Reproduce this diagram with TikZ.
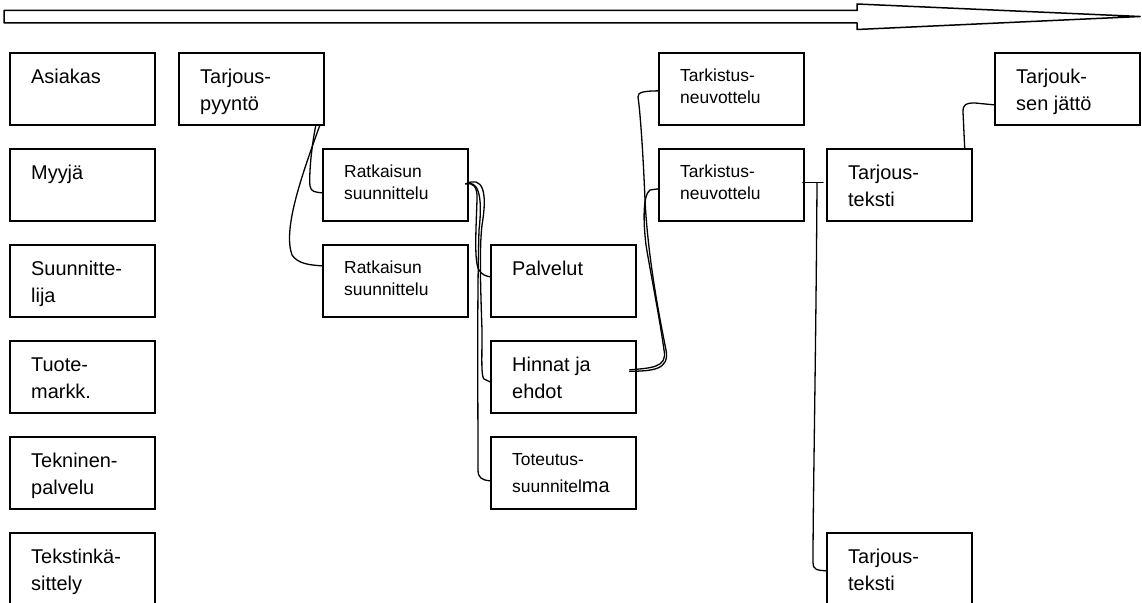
\documentclass[tikz,border=0pt]{standalone}
\usepackage{fontspec}
\setmainfont{Liberation Sans}
\usetikzlibrary{calc}
\tikzset{
  box/.style={draw=black, line width=1.7bp, anchor=north west, inner sep=0pt,
              minimum width=145bp, minimum height=72bp},
  lg/.style={anchor=base west, inner sep=0pt, xshift=22bp, yshift=-31.5bp,
             font=\fontsize{20}{27}\selectfont},
  sm/.style={anchor=base west, inner sep=0pt, xshift=22bp, yshift=-29.5bp,
             font=\fontsize{17.5}{22.5}\selectfont},
  conn/.style={draw=black, line width=1.3bp, line cap=round, line join=round},
  bigarrow/.style={draw=black, line width=1.5bp, fill=white, line join=round}
}
\newcommand\mkbox[5]{%
  \node[box] (#1) at (#2,#3) {};
  \node[#4] (#1-t) at (#1.north west) {\parbox[t]{125bp}{\raggedright #5}};
}
\begin{document}
\begin{tikzpicture}[x=1bp, y=-1bp]
\clip (0,0) rectangle (1142,603);
\fill[white] (0,0) rectangle (1142,603);

% top arrow
\draw[bigarrow] (4,10.5) -- (857,10.5) -- (857,4) -- (1140,16.5) -- (857,29.5)
   -- (857,23) -- (4,23) -- cycle;

% left column
\mkbox{asi}{9}{52}{lg}{Asiakas}
\mkbox{myy}{9}{148}{lg}{Myyjä}
\mkbox{suu}{9}{244}{lg}{Suunnitte-\\lija}
\mkbox{tuo}{9}{340}{lg}{Tuote-\\markk.}
\mkbox{tek}{9}{436}{lg}{Tekninen-\\palvelu}
\mkbox{tks}{9}{532}{lg}{Tekstinkä-\\sittely}

% process boxes
\mkbox{tp}{178}{52}{lg}{Tarjous-\\pyyntö}
\mkbox{ra}{322}{148}{sm}{Ratkaisun\\suunnittelu}
\mkbox{rb}{322}{244}{sm}{Ratkaisun\\suunnittelu}
\mkbox{pal}{490}{244}{lg}{Palvelut}
\mkbox{hin}{490}{340}{lg}{Hinnat ja\\ehdot}
\mkbox{tot}{490}{436}{sm}{Toteutus-\\[4.5bp]suunnitel{\fontsize{20}{27}\selectfont ma}}
\mkbox{tka}{658}{52}{sm}{Tarkistus-\\neuvottelu}
\mkbox{tkb}{658}{148}{sm}{Tarkistus-\\neuvottelu}
\mkbox{tta}{826}{148}{lg}{Tarjous-\\teksti}
\mkbox{ttb}{826}{532}{lg}{Tarjous-\\teksti}
\mkbox{tj}{994}{52}{lg}{Tarjouk-\\sen jättö}

% connectors
% Tarjouspyyntö -> Ratkaisun suunnittelu (1)
\draw[conn] ([xshift=-9bp]tp.south east) .. controls (311,150) and (309,175) .. (310,186)
   .. controls (311,192) and (315,192) .. ([yshift=-8bp]ra.west);
% Tarjouspyyntö -> Ratkaisun suunnittelu (2)
\draw[conn] ([xshift=-5bp]tp.south east) .. controls (300,180) and (283,230) .. (292,255)
   .. controls (298,264) and (310,265) .. ([yshift=15bp]rb.west);

% Ratkaisun suunnittelu (1) -> Palvelut, Hinnat, Toteutus
\coordinate (rs) at ([xshift=-3bp,yshift=1bp]ra.east);
\draw[conn] (rs) .. controls (472,182) and (478,186) .. (477,200)
   .. controls (476,230) and (474,262) .. (479,270)
   .. controls (482,275) and (486,276) .. ([yshift=4bp]pal.west);
\draw[conn] (rs) .. controls (482,176) and (488,190) .. (482,225)
   .. controls (479,250) and (481,300) .. (482,330)
   .. controls (482,360) and (481,376) .. (484,379) -- ([yshift=-5bp]hin.west);
\draw[conn] (rs) .. controls (478,180) and (483,195) .. (479,230)
   .. controls (477,300) and (478,400) .. (478,470)
   .. controls (478,478) and (482,480) .. ([yshift=-8bp]tot.west);

% Hinnat ja ehdot -> Tarkistusneuvottelu (1) and (2)
\coordinate (hs) at ([xshift=-7bp,yshift=7bp]hin.east);
\draw[conn] (hs) .. controls (650,368) and (668,368) .. (664,350)
   .. controls (660,320) and (650,270) .. (646,245)
   .. controls (643,220) and (643,195) .. (650,190) -- ([yshift=-4bp]tkb.west);
\draw[conn] ([yshift=-1.5bp]hs) .. controls (652,371) and (670,370) .. (666,350)
   .. controls (660,320) and (648,260) .. (645,200)
   .. controls (643,150) and (640,110) .. (638,97)
   .. controls (637,92) and (645,91) .. ([yshift=-2bp]tka.west);

% Tarkistusneuvottelu (2) -> Tarjousteksti (1) and (2)
\draw[conn] ([xshift=-2bp,yshift=2bp]tkb.east) -- ([xshift=-3bp,yshift=2bp]tta.west);
\coordinate (tv) at ([xshift=-9bp,yshift=2bp]tta.west);
\draw[conn] (tv) .. controls (816,350) and (813,500) .. (813,562)
   .. controls (813,571) and (818,570) .. ([yshift=-2bp]ttb.west);

% Tarjousteksti (1) -> Tarjouksen jättö
\draw[conn] ([xshift=-8bp]tta.north east) -- (963,112)
   .. controls (963,104) and (966,103) .. (975,103) -- ([yshift=-16bp]tj.west);
\end{tikzpicture}
\end{document}
